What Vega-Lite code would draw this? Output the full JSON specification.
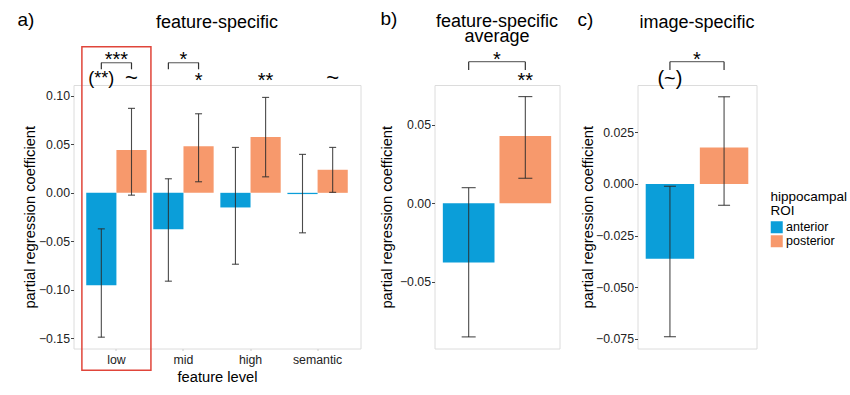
{
  "$schema": "https://vega.github.io/schema/vega-lite/v6.json",
  "padding": {"left": 17.5, "top": 10, "right": 5, "bottom": 5},
  "background": "white",
  "spacing": 17,
  "resolve": {"scale": {"xOffset": "independent"}},
  "datasets": {
    "fs": [
      {"level": "low", "roi": "anterior", "coef": -0.0954, "lo": -0.149, "hi": -0.0372},
      {"level": "low", "roi": "posterior", "coef": 0.0441, "lo": -0.0024, "hi": 0.0872},
      {"level": "mid", "roi": "anterior", "coef": -0.0375, "lo": -0.0912, "hi": 0.0145},
      {"level": "mid", "roi": "posterior", "coef": 0.0482, "lo": 0.0114, "hi": 0.0816},
      {"level": "high", "roi": "anterior", "coef": -0.0151, "lo": -0.0737, "hi": 0.0469},
      {"level": "high", "roi": "posterior", "coef": 0.0575, "lo": 0.0165, "hi": 0.0985},
      {"level": "semantic", "roi": "anterior", "coef": -0.0013, "lo": -0.0413, "hi": 0.0397},
      {"level": "semantic", "roi": "posterior", "coef": 0.0238, "lo": 0.0005, "hi": 0.0469}
    ],
    "fsAnn": [
      {"level": "low", "roi": "anterior", "label": "(**)", "kind": "paren"},
      {"level": "low", "roi": "posterior", "label": "~", "kind": "tilde"},
      {"level": "mid", "roi": "posterior", "label": "*", "kind": "star"},
      {"level": "high", "roi": "posterior", "label": "**", "kind": "star"},
      {"level": "semantic", "roi": "posterior", "label": "~", "kind": "tilde"}
    ],
    "fsBrk": [
      {"level": "low", "label": "***"},
      {"level": "mid", "label": "*"}
    ],
    "fsLeg": [
      {"level": "low", "roi": "anterior"},
      {"level": "low", "roi": "posterior"},
      {"level": "mid", "roi": "anterior"},
      {"level": "mid", "roi": "posterior"}
    ],
    "fsBox": [{"level": "low"}],
    "avg": [
      {"panel": "avg", "roi": "anterior", "coef": -0.0377, "lo": -0.0852, "hi": 0.0100},
      {"panel": "avg", "roi": "posterior", "coef": 0.0430, "lo": 0.0160, "hi": 0.0681}
    ],
    "avgAnn": [{"panel": "avg", "roi": "posterior", "label": "**"}],
    "avgBrk": [{"panel": "avg", "label": "*"}],
    "img": [
      {"panel": "img", "roi": "anterior", "coef": -0.0362, "lo": -0.0739, "hi": -0.0011},
      {"panel": "img", "roi": "posterior", "coef": 0.0177, "lo": -0.0103, "hi": 0.0422}
    ],
    "imgAnn": [{"panel": "img", "roi": "anterior", "label": "(~)"}],
    "imgBrk": [{"panel": "img", "label": "*"}]
  },
  "hconcat": [
    {
      "title": {"text": "a)", "anchor": "start", "frame": "group", "dx": -56, "fontSize": 19, "offset": -16.5},
      "resolve": {"scale": {"xOffset": "independent"}},
      "hconcat": [
        {
          "width": 287,
          "height": 263.5,
          "title": {"text": "feature-specific", "offset": 14.2},
          "layer": [
            {
              "data": {"name": "fsBox"},
              "mark": {"type": "bar", "fillOpacity": 0, "stroke": "#E0453A", "strokeWidth": 1.5, "width": {"band": 1.144}},
              "encoding": {
                "x": {"field": "level", "type": "nominal", "scale": {"domain": ["low", "mid", "high", "semantic"], "paddingInner": 0.1, "paddingOuter": 0.19}},
                "y": {"datum": 0.1508, "type": "quantitative", "scale": {"domain": [-0.1607, 0.1113], "nice": false}},
                "y2": {"datum": -0.1832}
              }
            },
            {
              "data": {"name": "fs"},
              "mark": {"type": "bar"},
              "encoding": {
                "x": {"field": "level", "type": "nominal", "scale": {"domain": ["low", "mid", "high", "semantic"], "paddingInner": 0.1, "paddingOuter": 0.19},
                  "axis": {"title": "feature level", "labelAngle": 0, "labelAlign": "center", "labelBaseline": "top", "ticks": true, "tickSize": 2, "tickColor": "#cccccc", "labelPadding": 3, "titlePadding": 3.5}},
                "xOffset": {"field": "roi", "type": "nominal", "scale": {"domain": ["anterior", "posterior"], "paddingInner": 0, "paddingOuter": 0}},
                "y": {"field": "coef", "type": "quantitative", "scale": {"domain": [-0.1607, 0.1113], "nice": false},
                  "axis": {"title": "partial regression coefficient", "values": [-0.15, -0.1, -0.05, 0, 0.05, 0.1], "format": ".2f", "tickSize": 3, "labelPadding": 1, "titlePadding": 1}},
                "y2": {"datum": 0},
                "color": {"field": "roi", "type": "nominal", "scale": {"domain": ["anterior", "posterior"], "range": ["#0B9ED9", "#F7996C"]},
                  "legend": {"orient": "none", "legendX": 697, "legendY": 105, "title": ["hippocampal", "ROI"]}}
              }
            },
            {
              "data": {"name": "fs"},
              "mark": {"type": "rule", "color": "#2b2b2b", "strokeWidth": 1.1, "opacity": 0.85},
              "encoding": {
                "x": {"field": "level", "type": "nominal", "scale": {"domain": ["low", "mid", "high", "semantic"], "paddingInner": 0.1, "paddingOuter": 0.19}},
                "xOffset": {"field": "roi", "type": "nominal", "scale": {"domain": ["anterior", "posterior"], "paddingInner": 0, "paddingOuter": 0}},
                "y": {"field": "lo", "type": "quantitative", "scale": {"domain": [-0.1607, 0.1113], "nice": false}},
                "y2": {"field": "hi"}
              }
            },
            {
              "data": {"name": "fs"},
              "mark": {"type": "tick", "color": "#2b2b2b", "thickness": 1.1, "size": 7, "opacity": 0.85},
              "encoding": {
                "x": {"field": "level", "type": "nominal", "scale": {"domain": ["low", "mid", "high", "semantic"], "paddingInner": 0.1, "paddingOuter": 0.19}},
                "xOffset": {"field": "roi", "type": "nominal", "scale": {"domain": ["anterior", "posterior"], "paddingInner": 0, "paddingOuter": 0}},
                "y": {"field": "lo", "type": "quantitative", "scale": {"domain": [-0.1607, 0.1113], "nice": false}}
              }
            },
            {
              "data": {"name": "fs"},
              "mark": {"type": "tick", "color": "#2b2b2b", "thickness": 1.1, "size": 7, "opacity": 0.85},
              "encoding": {
                "x": {"field": "level", "type": "nominal", "scale": {"domain": ["low", "mid", "high", "semantic"], "paddingInner": 0.1, "paddingOuter": 0.19}},
                "xOffset": {"field": "roi", "type": "nominal", "scale": {"domain": ["anterior", "posterior"], "paddingInner": 0, "paddingOuter": 0}},
                "y": {"field": "hi", "type": "quantitative", "scale": {"domain": [-0.1607, 0.1113], "nice": false}}
              }
            },
            {
              "data": {"name": "fsLeg"},
              "mark": {"type": "rule", "color": "#333333", "strokeWidth": 1.2},
              "encoding": {
                "x": {"field": "level", "type": "nominal", "scale": {"domain": ["low", "mid", "high", "semantic"], "paddingInner": 0.1, "paddingOuter": 0.19}},
                "xOffset": {"field": "roi", "type": "nominal", "scale": {"domain": ["anterior", "posterior"], "paddingInner": 0, "paddingOuter": 0}},
                "y": {"datum": 0.1343, "type": "quantitative", "scale": {"domain": [-0.1607, 0.1113], "nice": false}},
                "y2": {"datum": 0.1275}
              }
            },
            {
              "data": {"name": "fsBrk"},
              "mark": {"type": "tick", "color": "#333333", "thickness": 1.2, "size": 30.7},
              "encoding": {
                "x": {"field": "level", "type": "nominal", "scale": {"domain": ["low", "mid", "high", "semantic"], "paddingInner": 0.1, "paddingOuter": 0.19}},
                "y": {"datum": 0.1343, "type": "quantitative", "scale": {"domain": [-0.1607, 0.1113], "nice": false}}
              }
            },
            {
              "data": {"name": "fsBrk"},
              "mark": {"type": "text", "fontSize": 20, "baseline": "alphabetic", "align": "center", "color": "#000"},
              "encoding": {
                "x": {"field": "level", "type": "nominal", "scale": {"domain": ["low", "mid", "high", "semantic"], "paddingInner": 0.1, "paddingOuter": 0.19}},
                "y": {"datum": 0.1304, "type": "quantitative", "scale": {"domain": [-0.1607, 0.1113], "nice": false}},
                "text": {"field": "label"}
              }
            },
            {
              "data": {"name": "fsAnn"},
              "transform": [{"filter": "datum.kind === 'star'"}],
              "mark": {"type": "text", "fontSize": 20, "baseline": "alphabetic", "align": "center", "color": "#000"},
              "encoding": {
                "x": {"field": "level", "type": "nominal", "scale": {"domain": ["low", "mid", "high", "semantic"], "paddingInner": 0.1, "paddingOuter": 0.19}},
                "xOffset": {"field": "roi", "type": "nominal", "scale": {"domain": ["anterior", "posterior"], "paddingInner": 0, "paddingOuter": 0}},
                "y": {"datum": 0.1094, "type": "quantitative", "scale": {"domain": [-0.1607, 0.1113], "nice": false}},
                "text": {"field": "label"}
              }
            },
            {
              "data": {"name": "fsAnn"},
              "transform": [{"filter": "datum.kind === 'tilde'"}],
              "mark": {"type": "text", "fontSize": 22, "baseline": "alphabetic", "align": "center", "color": "#000"},
              "encoding": {
                "x": {"field": "level", "type": "nominal", "scale": {"domain": ["low", "mid", "high", "semantic"], "paddingInner": 0.1, "paddingOuter": 0.19}},
                "xOffset": {"field": "roi", "type": "nominal", "scale": {"domain": ["anterior", "posterior"], "paddingInner": 0, "paddingOuter": 0}},
                "y": {"datum": 0.1113, "type": "quantitative", "scale": {"domain": [-0.1607, 0.1113], "nice": false}},
                "text": {"field": "label"}
              }
            },
            {
              "data": {"name": "fsAnn"},
              "transform": [{"filter": "datum.kind === 'paren'"}],
              "mark": {"type": "text", "fontSize": 18, "baseline": "alphabetic", "align": "center", "color": "#000"},
              "encoding": {
                "x": {"field": "level", "type": "nominal", "scale": {"domain": ["low", "mid", "high", "semantic"], "paddingInner": 0.1, "paddingOuter": 0.19}},
                "xOffset": {"field": "roi", "type": "nominal", "scale": {"domain": ["anterior", "posterior"], "paddingInner": 0, "paddingOuter": 0}},
                "y": {"datum": 0.1123, "type": "quantitative", "scale": {"domain": [-0.1607, 0.1113], "nice": false}},
                "text": {"field": "label"}
              }
            }
          ]
        }
      ]
    },
    {
      "title": {"text": "b)", "anchor": "start", "frame": "group", "dx": -54, "fontSize": 19, "offset": -16.5},
      "resolve": {"scale": {"xOffset": "independent"}},
      "hconcat": [
        {
          "width": 125,
          "height": 263.5,
          "title": {"text": ["feature-specific", "average"], "lineHeight": 14.5, "offset": 4.5},
          "layer": [
            {
              "data": {"name": "avg"},
              "mark": {"type": "bar"},
              "encoding": {
                "x": {"field": "panel", "type": "nominal", "scale": {"paddingInner": 0, "paddingOuter": 0.077}, "axis": null},
                "xOffset": {"field": "roi", "type": "nominal", "scale": {"domain": ["anterior", "posterior"], "paddingInner": 0.088, "paddingOuter": 0}},
                "y": {"field": "coef", "type": "quantitative", "scale": {"domain": [-0.0926, 0.0755], "nice": false},
                  "axis": {"title": "partial regression coefficient", "values": [-0.05, 0, 0.05], "format": ".2f", "tickSize": 3, "labelPadding": 1, "titlePadding": 5}},
                "y2": {"datum": 0},
                "color": {"field": "roi", "type": "nominal", "scale": {"domain": ["anterior", "posterior"], "range": ["#0B9ED9", "#F7996C"]},
                  "legend": {"orient": "none", "legendX": 697, "legendY": 105, "title": ["hippocampal", "ROI"]}}
              }
            },
            {
              "data": {"name": "avg"},
              "mark": {"type": "rule", "color": "#2b2b2b", "strokeWidth": 1.1, "opacity": 0.85},
              "encoding": {
                "x": {"field": "panel", "type": "nominal", "scale": {"paddingInner": 0, "paddingOuter": 0.077}, "axis": null},
                "xOffset": {"field": "roi", "type": "nominal", "scale": {"domain": ["anterior", "posterior"], "paddingInner": 0.088, "paddingOuter": 0}},
                "y": {"field": "lo", "type": "quantitative", "scale": {"domain": [-0.0926, 0.0755], "nice": false}},
                "y2": {"field": "hi"}
              }
            },
            {
              "data": {"name": "avg"},
              "mark": {"type": "tick", "color": "#2b2b2b", "thickness": 1.1, "size": 14, "opacity": 0.85},
              "encoding": {
                "x": {"field": "panel", "type": "nominal", "scale": {"paddingInner": 0, "paddingOuter": 0.077}, "axis": null},
                "xOffset": {"field": "roi", "type": "nominal", "scale": {"domain": ["anterior", "posterior"], "paddingInner": 0.088, "paddingOuter": 0}},
                "y": {"field": "lo", "type": "quantitative", "scale": {"domain": [-0.0926, 0.0755], "nice": false}}
              }
            },
            {
              "data": {"name": "avg"},
              "mark": {"type": "tick", "color": "#2b2b2b", "thickness": 1.1, "size": 14, "opacity": 0.85},
              "encoding": {
                "x": {"field": "panel", "type": "nominal", "scale": {"paddingInner": 0, "paddingOuter": 0.077}, "axis": null},
                "xOffset": {"field": "roi", "type": "nominal", "scale": {"domain": ["anterior", "posterior"], "paddingInner": 0.088, "paddingOuter": 0}},
                "y": {"field": "hi", "type": "quantitative", "scale": {"domain": [-0.0926, 0.0755], "nice": false}}
              }
            },
            {
              "data": {"name": "avg"},
              "mark": {"type": "rule", "color": "#333333", "strokeWidth": 1.2},
              "encoding": {
                "x": {"field": "panel", "type": "nominal", "scale": {"paddingInner": 0, "paddingOuter": 0.077}, "axis": null},
                "xOffset": {"field": "roi", "type": "nominal", "scale": {"domain": ["anterior", "posterior"], "paddingInner": 0.088, "paddingOuter": 0}},
                "y": {"datum": 0.0904, "type": "quantitative", "scale": {"domain": [-0.0926, 0.0755], "nice": false}},
                "y2": {"datum": 0.0851}
              }
            },
            {
              "data": {"name": "avgBrk"},
              "mark": {"type": "tick", "color": "#333333", "thickness": 1.2, "size": 56.6},
              "encoding": {
                "x": {"field": "panel", "type": "nominal", "scale": {"paddingInner": 0, "paddingOuter": 0.077}, "axis": null},
                "y": {"datum": 0.0904, "type": "quantitative", "scale": {"domain": [-0.0926, 0.0755], "nice": false}}
              }
            },
            {
              "data": {"name": "avgBrk"},
              "mark": {"type": "text", "fontSize": 20, "baseline": "alphabetic", "align": "center", "color": "#000"},
              "encoding": {
                "x": {"field": "panel", "type": "nominal", "scale": {"paddingInner": 0, "paddingOuter": 0.077}, "axis": null},
                "y": {"datum": 0.0874, "type": "quantitative", "scale": {"domain": [-0.0926, 0.0755], "nice": false}},
                "text": {"field": "label"}
              }
            },
            {
              "data": {"name": "avgAnn"},
              "mark": {"type": "text", "fontSize": 20, "baseline": "alphabetic", "align": "center", "color": "#000"},
              "encoding": {
                "x": {"field": "panel", "type": "nominal", "scale": {"paddingInner": 0, "paddingOuter": 0.077}, "axis": null},
                "xOffset": {"field": "roi", "type": "nominal", "scale": {"domain": ["anterior", "posterior"], "paddingInner": 0.088, "paddingOuter": 0}},
                "y": {"datum": 0.0741, "type": "quantitative", "scale": {"domain": [-0.0926, 0.0755], "nice": false}},
                "text": {"field": "label"}
              }
            }
          ]
        }
      ]
    },
    {
      "title": {"text": "c)", "anchor": "start", "frame": "group", "dx": -60, "fontSize": 19, "offset": -16.5},
      "resolve": {"scale": {"xOffset": "independent"}},
      "hconcat": [
        {
          "width": 119,
          "height": 263.5,
          "title": {"text": "image-specific", "offset": 18.5},
          "layer": [
            {
              "data": {"name": "img"},
              "mark": {"type": "bar"},
              "encoding": {
                "x": {"field": "panel", "type": "nominal", "scale": {"paddingInner": 0, "paddingOuter": 0.08}, "axis": null},
                "xOffset": {"field": "roi", "type": "nominal", "scale": {"domain": ["anterior", "posterior"], "paddingInner": 0.105, "paddingOuter": 0}},
                "y": {"field": "coef", "type": "quantitative", "scale": {"domain": [-0.0796, 0.0479], "nice": false},
                  "axis": {"title": "partial regression coefficient", "values": [-0.075, -0.05, -0.025, 0, 0.025], "format": ".3f", "tickSize": 3, "labelPadding": 1, "titlePadding": 0}},
                "y2": {"datum": 0},
                "color": {"field": "roi", "type": "nominal", "scale": {"domain": ["anterior", "posterior"], "range": ["#0B9ED9", "#F7996C"]},
                  "legend": {"orient": "none", "legendX": 697, "legendY": 105, "title": ["hippocampal", "ROI"]}}
              }
            },
            {
              "data": {"name": "img"},
              "mark": {"type": "rule", "color": "#2b2b2b", "strokeWidth": 1.1, "opacity": 0.85},
              "encoding": {
                "x": {"field": "panel", "type": "nominal", "scale": {"paddingInner": 0, "paddingOuter": 0.08}, "axis": null},
                "xOffset": {"field": "roi", "type": "nominal", "scale": {"domain": ["anterior", "posterior"], "paddingInner": 0.105, "paddingOuter": 0}},
                "y": {"field": "lo", "type": "quantitative", "scale": {"domain": [-0.0796, 0.0479], "nice": false}},
                "y2": {"field": "hi"}
              }
            },
            {
              "data": {"name": "img"},
              "mark": {"type": "tick", "color": "#2b2b2b", "thickness": 1.1, "size": 12, "opacity": 0.85},
              "encoding": {
                "x": {"field": "panel", "type": "nominal", "scale": {"paddingInner": 0, "paddingOuter": 0.08}, "axis": null},
                "xOffset": {"field": "roi", "type": "nominal", "scale": {"domain": ["anterior", "posterior"], "paddingInner": 0.105, "paddingOuter": 0}},
                "y": {"field": "lo", "type": "quantitative", "scale": {"domain": [-0.0796, 0.0479], "nice": false}}
              }
            },
            {
              "data": {"name": "img"},
              "mark": {"type": "tick", "color": "#2b2b2b", "thickness": 1.1, "size": 12, "opacity": 0.85},
              "encoding": {
                "x": {"field": "panel", "type": "nominal", "scale": {"paddingInner": 0, "paddingOuter": 0.08}, "axis": null},
                "xOffset": {"field": "roi", "type": "nominal", "scale": {"domain": ["anterior", "posterior"], "paddingInner": 0.105, "paddingOuter": 0}},
                "y": {"field": "hi", "type": "quantitative", "scale": {"domain": [-0.0796, 0.0479], "nice": false}}
              }
            },
            {
              "data": {"name": "img"},
              "mark": {"type": "rule", "color": "#333333", "strokeWidth": 1.2},
              "encoding": {
                "x": {"field": "panel", "type": "nominal", "scale": {"paddingInner": 0, "paddingOuter": 0.08}, "axis": null},
                "xOffset": {"field": "roi", "type": "nominal", "scale": {"domain": ["anterior", "posterior"], "paddingInner": 0.105, "paddingOuter": 0}},
                "y": {"datum": 0.0592, "type": "quantitative", "scale": {"domain": [-0.0796, 0.0479], "nice": false}},
                "y2": {"datum": 0.0552}
              }
            },
            {
              "data": {"name": "imgBrk"},
              "mark": {"type": "tick", "color": "#333333", "thickness": 1.2, "size": 54.2},
              "encoding": {
                "x": {"field": "panel", "type": "nominal", "scale": {"paddingInner": 0, "paddingOuter": 0.08}, "axis": null},
                "y": {"datum": 0.0592, "type": "quantitative", "scale": {"domain": [-0.0796, 0.0479], "nice": false}}
              }
            },
            {
              "data": {"name": "imgBrk"},
              "mark": {"type": "text", "fontSize": 20, "baseline": "alphabetic", "align": "center", "color": "#000"},
              "encoding": {
                "x": {"field": "panel", "type": "nominal", "scale": {"paddingInner": 0, "paddingOuter": 0.08}, "axis": null},
                "y": {"datum": 0.0569, "type": "quantitative", "scale": {"domain": [-0.0796, 0.0479], "nice": false}},
                "text": {"field": "label"}
              }
            },
            {
              "data": {"name": "imgAnn"},
              "mark": {"type": "text", "fontSize": 20, "baseline": "alphabetic", "align": "center", "color": "#000"},
              "encoding": {
                "x": {"field": "panel", "type": "nominal", "scale": {"paddingInner": 0, "paddingOuter": 0.08}, "axis": null},
                "xOffset": {"field": "roi", "type": "nominal", "scale": {"domain": ["anterior", "posterior"], "paddingInner": 0.105, "paddingOuter": 0}},
                "y": {"datum": 0.0481, "type": "quantitative", "scale": {"domain": [-0.0796, 0.0479], "nice": false}},
                "text": {"field": "label"}
              }
            }
          ]
        }
      ]
    }
  ],
  "config": {
    "font": "Liberation Sans",
    "view": {"stroke": "#dcdcdc", "strokeWidth": 1},
    "axis": {"domain": false, "grid": false, "labelFontSize": 12.3, "labelColor": "#222222", "titleFontSize": 14.7, "titleFontWeight": "normal", "titleColor": "#000000", "tickColor": "#444444"},
    "title": {"fontSize": 18, "fontWeight": "normal", "color": "#000000"},
    "legend": {"titleFontSize": 13.5, "titleFontWeight": "normal", "titleColor": "#000000", "titleLineHeight": 13.5, "titlePadding": 4, "labelFontSize": 12.5, "labelColor": "#000000", "symbolType": "square", "symbolSize": 144, "symbolStrokeWidth": 0, "symbolOpacity": 1, "rowPadding": 1, "labelOffset": 3}
  }
}
